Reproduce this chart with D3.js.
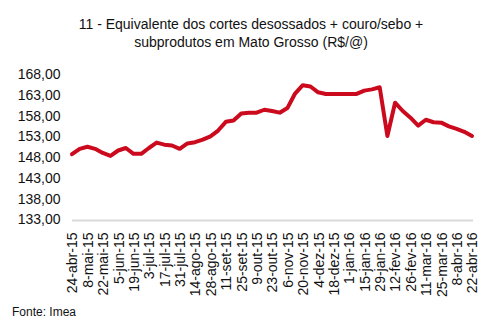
<!DOCTYPE html>
<html>
<head>
<meta charset="utf-8">
<script src="https://cdn.jsdelivr.net/npm/d3@7"></script>
<style>
  html, body { margin: 0; padding: 0; background: #fff; }
  svg { display: block; font-family: "Liberation Sans", Arial, sans-serif; }
</style>
</head>
<body>
<svg id="chart" width="492" height="331"></svg>
<script>
// Weekly dates (Friday quotes)
const dates = [
  "24-abr-15","1-mai-15","8-mai-15","15-mai-15","22-mai-15","29-mai-15","5-jun-15","12-jun-15",
  "19-jun-15","26-jun-15","3-jul-15","10-jul-15","17-jul-15","24-jul-15","31-jul-15","7-ago-15",
  "14-ago-15","21-ago-15","28-ago-15","4-set-15","11-set-15","18-set-15","25-set-15","2-out-15",
  "9-out-15","16-out-15","23-out-15","30-out-15","6-nov-15","13-nov-15","20-nov-15","27-nov-15",
  "4-dez-15","11-dez-15","18-dez-15","25-dez-15","1-jan-16","8-jan-16","15-jan-16","22-jan-16",
  "29-jan-16","5-fev-16","12-fev-16","19-fev-16","26-fev-16","4-mar-16","11-mar-16","18-mar-16",
  "25-mar-16","1-abr-16","8-abr-16","15-abr-16","22-abr-16"
];

// Equivalente (R$/@)
const values = [
  148.7, 150.0, 150.5, 150.0, 149.0, 148.3, 149.6, 150.2, 148.8, 148.8,
  150.2, 151.5, 151.0, 150.8, 150.0, 151.3, 151.6, 152.2, 153.0, 154.4,
  156.5, 156.8, 158.5, 158.7, 158.7, 159.4, 159.1, 158.7, 159.8, 163.3,
  165.3, 165.0, 163.6, 163.2, 163.2, 163.2, 163.2, 163.2, 164.0, 164.3,
  164.8, 153.1, 161.1, 159.1, 157.5, 155.6, 157.0, 156.4, 156.3, 155.4,
  154.8, 154.1, 153.1
];

// Axis tick labels: every second week
const xTickLabels = dates.filter((d, i) => i % 2 === 0);
const yTicks = [133, 138, 143, 148, 153, 158, 163, 168];

const titleLines = [
  "11 - Equivalente dos cortes desossados + couro/sebo +",
  "subprodutos em Mato Grosso (R$/@)"
];
const sourceText = "Fonte: Imea";

const svg = d3.select("#chart");
const margin = { left: 72, right: 20, top: 74, bottom: 111 };
const W = 492, H = 331;

const x = d3.scalePoint().domain(dates).range([margin.left, W - margin.right]);
const y = d3.scaleLinear().domain([133, 168]).range([219.5, 74]);

// Title
svg.append("g").selectAll("text").data(titleLines).join("text")
  .attr("x", 251).attr("y", (d, i) => 28.5 + i * 18.5)
  .attr("text-anchor", "middle")
  .attr("font-size", 14).attr("fill", "#111")
  .text(d => d);

// Y axis (labels only)
const yAxis = d3.axisLeft(y).tickValues(yTicks).tickSize(0).tickPadding(0)
  .tickFormat(d => d3.format(".2f")(d).replace(".", ","));
svg.append("g").attr("transform", "translate(60.5,0)").call(yAxis)
  .call(g => g.select(".domain").remove())
  .call(g => g.selectAll("text").attr("font-size", 14).attr("fill", "#111")
    .attr("font-family", "'Liberation Sans', Arial, sans-serif"));

// X axis: grey baseline and rotated date labels
const xAxis = d3.axisBottom(x).tickValues(xTickLabels).tickSize(0).tickPadding(0);
const gx = svg.append("g").attr("transform", "translate(0,220.5)").call(xAxis);
gx.select(".domain").attr("stroke", "#d9d9d9").attr("stroke-width", 2)
  .attr("d", `M${margin.left},0H${W - margin.right + 1}`);
gx.selectAll(".tick text")
  .attr("font-size", 14).attr("fill", "#111")
  .attr("font-family", "'Liberation Sans', Arial, sans-serif")
  .attr("text-anchor", "end")
  .attr("dy", "0.35em")
  .attr("transform", "translate(0,12) rotate(-90)")
  .attr("x", 0).attr("y", 0);

// Line
const line = d3.line().x((d, i) => x(dates[i])).y(d => y(d));
svg.append("path").datum(values)
  .attr("fill", "none").attr("stroke", "#cc0a1e")
  .attr("stroke-width", 4).attr("stroke-linejoin", "round").attr("stroke-linecap", "round")
  .attr("d", line);

// Source
svg.append("text").attr("x", 12).attr("y", 316)
  .attr("font-size", 12).attr("fill", "#111").text(sourceText);
</script>
</body>
</html>
